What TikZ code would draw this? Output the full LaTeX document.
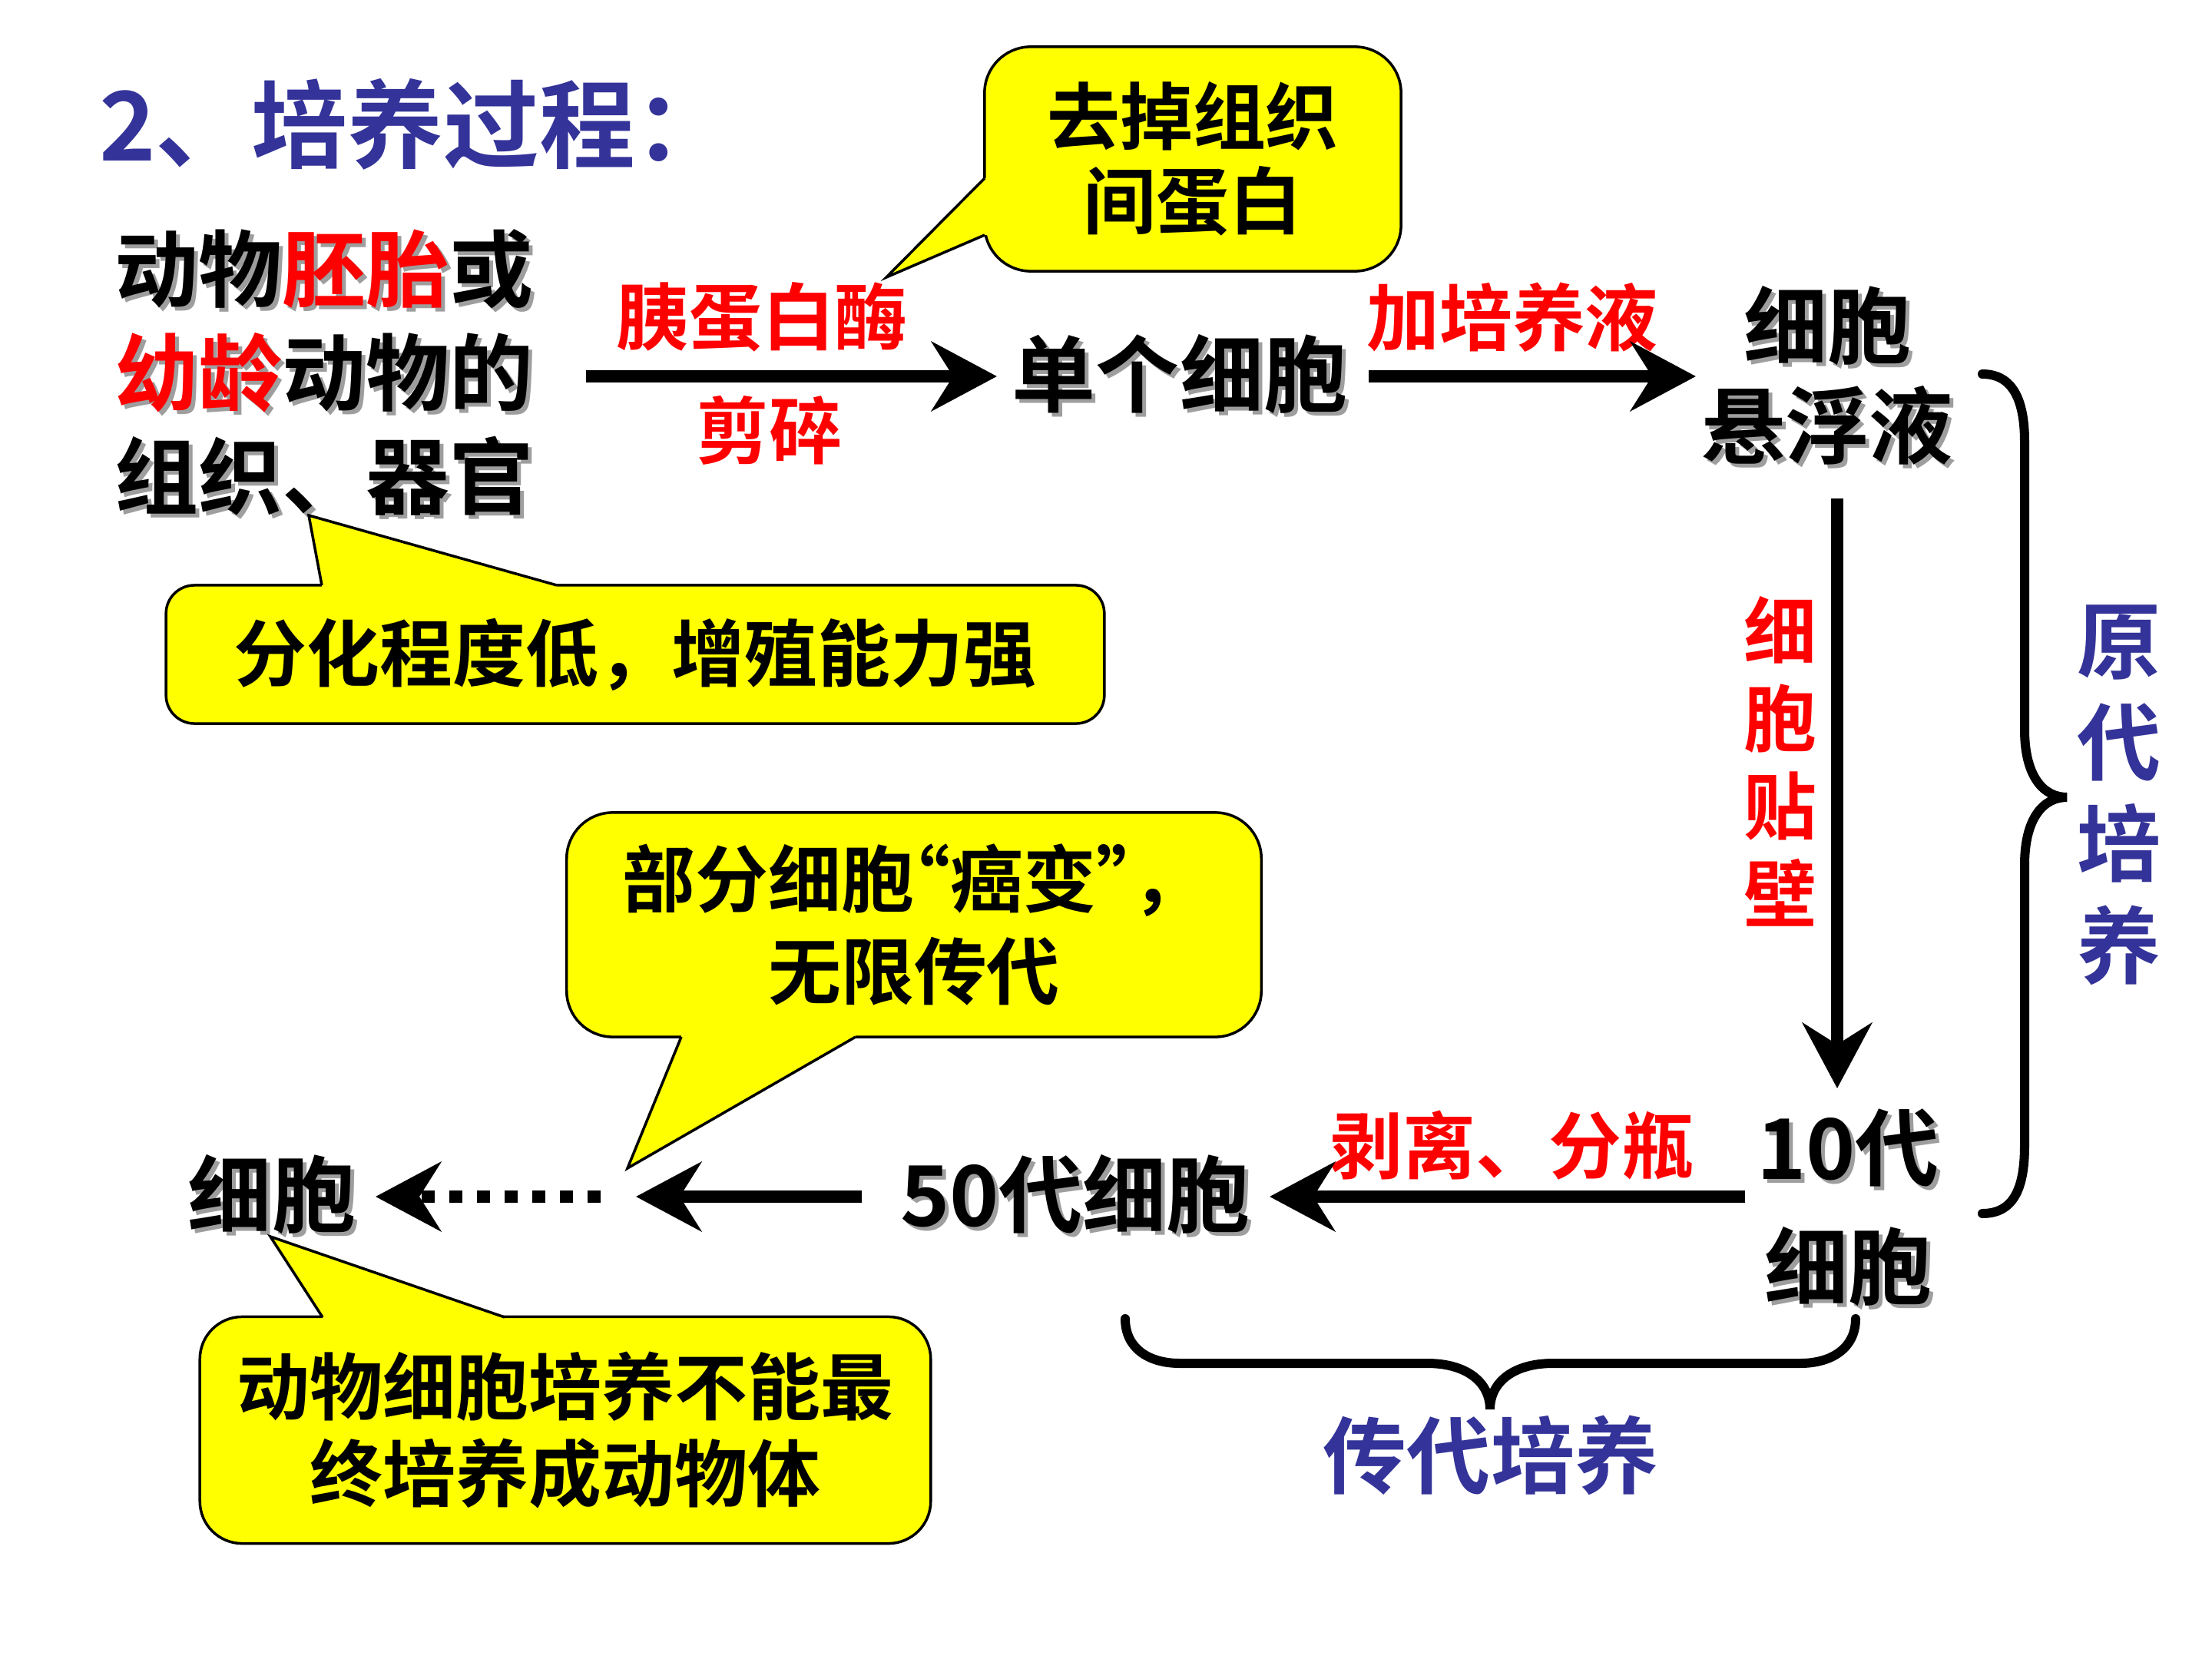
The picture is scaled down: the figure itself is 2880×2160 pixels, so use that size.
\documentclass[tikz,border=0pt]{standalone}
\usepackage{fontspec}
\setmainfont{Noto Sans CJK SC Bold}
\usetikzlibrary{arrows.meta,calc}
\definecolor{tblue}{HTML}{333399}
\definecolor{cyell}{HTML}{FFFF00}
\definecolor{shgray}{gray}{0.62}
\newcommand\R[1]{{\color{red}#1}}
\newcommand\shd[1]{\leavevmode\rlap{\let\R\relax\kern0.05cm\raisebox{-0.05cm}{\color{shgray}#1}}#1}
\newcommand\myLq{\makebox[0.5em][r]{“}}
\newcommand\myRq{\makebox[0.5em][l]{”}}
\begin{document}
\begin{tikzpicture}[x=0.01cm,y=-0.01cm,
  every node/.style={inner sep=0pt,outer sep=0pt},
  arr/.style={line width=0.16cm,-{Stealth[length=0.85cm,width=0.9cm,inset=0.28cm]}},
  dotarr/.style={arr,dash pattern=on 0.17cm off 0.19cm},
  brace/.style={line width=0.12cm,line cap=round},
  callout/.style={draw=black,line width=0.035cm,fill=cyell,align=center},
  tailline/.style={draw=black,line width=0.035cm,line join=miter},
  big/.style={font=\fontsize{31}{38.4}\selectfont},
  mid/.style={font=\fontsize{27}{31.3}\selectfont},
  redlab/.style={mid,text=red},
  bluelab/.style={font=\fontsize{31}{37.6}\selectfont,text=tblue,align=center}]
\useasboundingbox (0,0) rectangle (2880,2160);
\fill[white] (0,0) rectangle (2880,2160);

% title
\node[anchor=west,font=\fontsize{35.5}{40}\selectfont,text=tblue] (title) at (129,162) {2、培养过程：};

% main nodes
\node[big,align=center] (src) at (422,487) {\shd{动物\R{胚胎}或}\\\shd{\R{幼龄}动物的}\\\shd{组织、器官}};
\node[big] (single) at (1536,490) {\shd{单个细胞}};
\node[font=\fontsize{31}{37}\selectfont,align=center] (susp) at (2379,491) {\shd{细胞}\\\shd{悬浮液}};
\node[font=\fontsize{31}{44}\selectfont,align=center] (ten) at (2406,1575) {\shd{10代}\\\shd{细胞}};
\node[big] (fifty) at (1400,1558) {\shd{50代细胞}};
\node[big] (cell) at (354,1558) {\shd{细胞}};

% labels
\node[redlab] (l1) at (992,413) {胰蛋白酶};
\node[redlab] (l2) at (1001,560) {剪碎};
\node[redlab] (l3) at (1969,413) {加培养液};
\node[redlab,font=\fontsize{27}{32.4}\selectfont,align=center] (l4) at (2318,991) {细\\胞\\贴\\壁};
\node[redlab] (l5) at (1969,1491) {剥离、分瓶};
\node[bluelab] (prim) at (2759,1035) {原\\代\\培\\养};
\node[bluelab] (pass) at (1941,1895) {传代培养};

% arrow end points
\coordinate (a1s) at (763,490);  \coordinate (a1e) at (1298,490);
\coordinate (a2s) at (1782,490); \coordinate (a2e) at (2208,490);
\coordinate (a3s) at (2392,649); \coordinate (a3e) at (2392,1417);
\coordinate (a4s) at (2272,1558); \coordinate (a4e) at (1653,1558);
\coordinate (a5s) at (1122,1558); \coordinate (a5e) at (828,1558);
\coordinate (a6s) at (782,1558); \coordinate (a6e) at (489,1558);
\draw[arr] (a1s) -- (a1e);
\draw[arr] (a2s) -- (a2e);
\draw[arr] (a3s) -- (a3e);
\draw[arr] (a4s) -- (a4e);
\draw[arr] (a5s) -- (a5e);
\draw[dotarr] (a6s) -- (a6e);

% braces
\draw[brace] (2581,487) .. controls (2620,487) and (2636,520) .. (2636,575) -- (2636,950)
  .. controls (2636,1010) and (2660,1038) .. (2691,1038)
  .. controls (2660,1038) and (2636,1066) .. (2636,1126) -- (2636,1492)
  .. controls (2636,1550) and (2620,1580) .. (2581,1580);
\draw[brace] (1465,1717) .. controls (1465,1755) and (1495,1775) .. (1536,1775) -- (1858,1775)
  .. controls (1910,1775) and (1940,1800) .. (1940,1835)
  .. controls (1940,1800) and (1970,1775) .. (2022,1775) -- (2344,1775)
  .. controls (2385,1775) and (2416,1755) .. (2416,1717);

% callout 1
\node[callout,rounded corners=0.6cm,minimum width=5.42cm,minimum height=2.92cm,mid] (c1) at (1553,207) {去掉组织\\间蛋白};
\coordinate (c1t) at (1154,361);
\fill[cyell] (1287,232) -- (1282,232) -- (c1t) -- (1282,306) -- (1287,306) -- cycle;
\draw[tailline] (1282,232) -- (c1t) -- (1282,306);

% callout 2
\node[callout,rounded corners=0.37cm,minimum width=12.21cm,minimum height=1.80cm,mid] (c2) at (827,852) {分化程度低，增殖能力强};
\coordinate (c2t) at (402,671);
\fill[cyell] (419,767) -- (419,762) -- (c2t) -- (725,762) -- (725,767) -- cycle;
\draw[tailline] (419,762) -- (c2t) -- (725,762);

% callout 3
\node[callout,rounded corners=0.6cm,minimum width=9.04cm,minimum height=2.92cm,font=\fontsize{27}{34}\selectfont] (c3) at (1190,1204) {部分细胞\myLq 癌变\myRq ，\\无限传代};
\coordinate (c3t) at (817,1521);
\fill[cyell] (887,1345) -- (887,1350) -- (c3t) -- (1114,1350) -- (1114,1345) -- cycle;
\draw[tailline] (887,1350) -- (c3t) -- (1114,1350);

% callout 4
\node[callout,rounded corners=0.55cm,minimum width=9.51cm,minimum height=2.95cm,font=\fontsize{27}{32}\selectfont] (c4) at (736,1862) {动物细胞培养不能最\\终培养成动物体};
\coordinate (c4t) at (352,1610);
\fill[cyell] (420,1720) -- (420,1715) -- (c4t) -- (657,1715) -- (657,1720) -- cycle;
\draw[tailline] (420,1715) -- (c4t) -- (657,1715);
\end{tikzpicture}
\end{document}
